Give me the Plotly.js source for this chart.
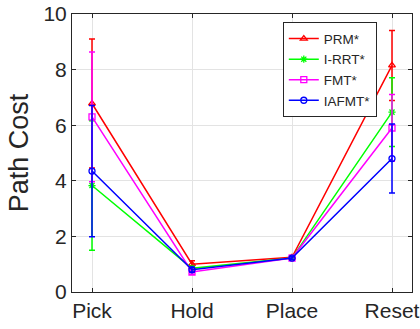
<!DOCTYPE html>
<html><head><meta charset="utf-8">
<script src="https://cdn.plot.ly/plotly-3.0.1.min.js"></script>
<style>body{margin:0;background:#fff}#c{width:420px;height:329px}</style>
</head><body><div id="c"></div>
<script>
const categories = ["Pick", "Hold", "Place", "Reset"];
const prm = [6.78, 1.0, 1.25, 8.15];
const prmErr = [2.32, 0.12, 0.06, 1.26];
const irrt = [3.83, 0.85, 1.22, 6.47];
const irrtErr = [2.33, 0.08, 0.05, 1.24];
const fmt = [6.3, 0.72, 1.22, 5.9];
const fmtErr = [2.33, 0.08, 0.05, 1.2];
const iafmt = [4.35, 0.8, 1.22, 4.8];
const iafmtErr = [2.36, 0.08, 0.05, 1.24];
const names = ["PRM*", "I-RRT*", "FMT*", "IAFMT*"];
const colors = ["#ff0000", "#00ff00", "#ff00ff", "#0000ff"];
const symbols = ["triangle-up-open", "asterisk-open", "square-open", "circle-open"];
const ys = [prm, irrt, fmt, iafmt];
const errs = [prmErr, irrtErr, fmtErr, iafmtErr];
const xIdx = categories.map((c, i) => i);
const traces = ys.map((y, k) => ({
  x: xIdx, y: y, name: names[k], type: "scatter", mode: "lines+markers",
  line: {color: colors[k], width: 1.5},
  marker: {symbol: symbols[k], size: 6, color: colors[k], line: {width: 1.3, color: colors[k]}},
  error_y: {type: "data", array: errs[k], visible: true, color: colors[k], thickness: 1.5, width: 3}
}));
const layout = {
  width: 420, height: 329,
  margin: {l: 72, r: 8, t: 14, b: 37},
  paper_bgcolor: "#fff", plot_bgcolor: "#fff",
  font: {family: "Liberation Sans, Arial, sans-serif", color: "#262626"},
  showlegend: true,
  legend: {x: 0.62, y: 0.97, xanchor: "left", yanchor: "top", bordercolor: "#262626", borderwidth: 1,
           bgcolor: "#fff", font: {size: 13.5, color: "#262626"}, tracegroupgap: 0, itemwidth: 30},
  xaxis: {range: [-0.2, 3.2], tickmode: "array", tickvals: xIdx, ticktext: categories,
          showgrid: true, gridcolor: "#e3e3e3", zeroline: false, showline: true, mirror: "ticks",
          linecolor: "#262626", linewidth: 1, ticks: "inside", ticklen: 4, tickcolor: "#262626",
          tickfont: {size: 21, color: "#262626"}},
  yaxis: {range: [0, 10], dtick: 2, showgrid: true, gridcolor: "#e3e3e3", zeroline: false,
          showline: true, mirror: "ticks", linecolor: "#262626", linewidth: 1, ticks: "inside",
          ticklen: 4, tickcolor: "#262626", tickfont: {size: 21, color: "#262626"},
          title: {text: "Path Cost", font: {size: 27, color: "#262626"}, standoff: 6}}
};
Plotly.newPlot("c", traces, layout, {staticPlot: true});
</script></body></html>
